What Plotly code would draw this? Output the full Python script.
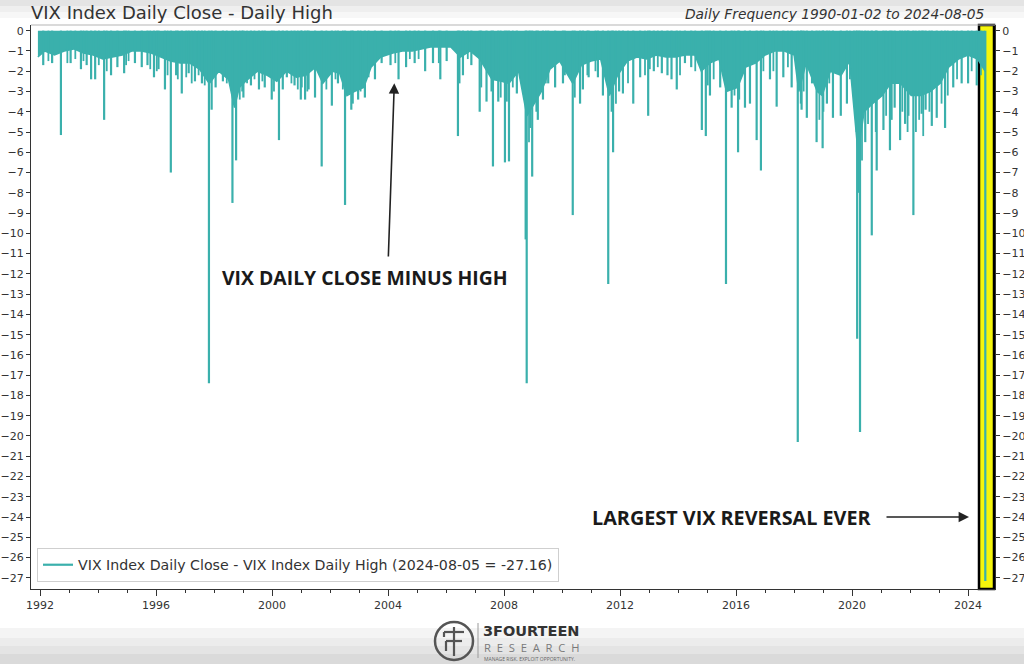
import plotly.graph_objects as go

# ---------------- data ----------------
# lower edge of the dense daily band (VIX close - VIX high)
band_dates = [
    "1991-12-05", "1992-03-01", "1992-07-01", "1992-11-01", "1993-03-01", "1993-07-01",
    "1993-11-01", "1994-03-01", "1994-07-01", "1994-11-01", "1995-03-01", "1995-07-01",
    "1995-11-01", "1996-03-01", "1996-07-01", "1996-11-01", "1997-03-01", "1997-07-01",
    "1997-11-01", "1998-03-01", "1998-07-01", "1998-09-15", "1998-11-15", "1999-03-01",
    "1999-07-01", "1999-11-01", "2000-03-01", "2000-07-01", "2000-11-01", "2001-03-01",
    "2001-07-01", "2001-10-01", "2002-02-01", "2002-05-01", "2002-08-01", "2002-11-01",
    "2003-03-01", "2003-06-01", "2003-10-01", "2004-03-01", "2004-07-01", "2004-11-01",
    "2005-03-01", "2005-07-01", "2005-11-01", "2006-03-01", "2006-07-01", "2006-11-01",
    "2007-03-01", "2007-08-01", "2007-12-01", "2008-03-01", "2008-07-01", "2008-10-15",
    "2009-01-15", "2009-04-15", "2009-08-01", "2009-12-01", "2010-05-15", "2010-09-01",
    "2011-01-01", "2011-05-01", "2011-08-20", "2011-12-01", "2012-04-01", "2012-08-01",
    "2012-12-01", "2013-04-01", "2013-08-01", "2013-12-01", "2014-04-01", "2014-08-01",
    "2014-10-20", "2015-02-01", "2015-06-01", "2015-09-01", "2016-01-20", "2016-05-01",
    "2016-09-01", "2017-01-01", "2017-05-01", "2017-09-01", "2018-01-01", "2018-03-01",
    "2018-06-01", "2018-10-20", "2018-12-20", "2019-04-01", "2019-08-15", "2019-12-01",
    "2020-03-15", "2020-06-01", "2020-09-15", "2021-01-15", "2021-05-01", "2021-09-01",
    "2022-01-15", "2022-05-15", "2022-09-15", "2023-01-15", "2023-05-01", "2023-09-01",
    "2024-01-01", "2024-05-01", "2024-08-02",
]
band_values = [
    -1.3, -1.0, -1.2, -1.0, -0.9, -1.1,
    -1.2, -1.4, -1.3, -1.2, -1.0, -1.0,
    -1.1, -1.3, -1.5, -1.6, -1.6, -1.9,
    -2.6, -2.0, -2.4, -3.8, -2.8, -2.4,
    -2.0, -2.2, -2.5, -2.0, -2.3, -2.2,
    -1.8, -2.6, -2.0, -2.1, -3.2, -3.0,
    -2.8, -1.8, -1.3, -1.1, -1.0, -1.0,
    -0.9, -0.8, -0.8, -0.8, -1.3, -1.0,
    -1.4, -2.4, -2.5, -2.6, -2.0, -4.2,
    -3.6, -3.0, -1.9, -1.5, -2.6, -1.7,
    -1.5, -1.4, -3.2, -2.2, -1.5, -1.3,
    -1.4, -1.2, -1.3, -1.3, -1.2, -1.2,
    -2.0, -1.6, -1.4, -3.0, -2.8, -1.8,
    -1.6, -1.2, -1.0, -1.0, -1.2, -3.0,
    -1.6, -3.0, -3.2, -2.0, -2.2, -1.5,
    -6.0, -4.0, -3.6, -3.2, -2.6, -2.6,
    -3.2, -3.2, -3.0, -2.6, -1.8, -1.4,
    -1.2, -1.4, -2.0,
]

# individual days that stick out well below the band
spike_dates = [
    "1992-02-10", "1992-06-01", "1992-09-20", "1993-01-20", "1993-05-30", "1993-08-10",
    "1993-10-05", "1993-11-25", "1994-03-18", "1994-06-13", "1994-09-01", "1994-11-25",
    "1995-04-10", "1995-07-05", "1995-09-15", "1995-12-06", "1996-02-01", "1996-04-22",
    "1996-07-05", "1996-09-10", "1996-11-20", "1997-02-15", "1997-05-05", "1997-08-01",
    "1997-10-28", "1997-12-01", "1998-01-20", "1998-04-22", "1998-08-20", "1998-10-05",
    "1999-01-05", "1999-04-10", "1999-07-20", "1999-10-01", "1999-12-28", "2000-03-28",
    "2000-05-15", "2000-07-05", "2000-10-10", "2000-12-28", "2001-02-20", "2001-04-05",
    "2001-06-25", "2001-09-17", "2002-01-23", "2002-04-10", "2002-07-08", "2002-09-25",
    "2002-12-20", "2003-03-15", "2003-07-20", "2003-10-12", "2004-02-01", "2004-05-12",
    "2004-08-15", "2004-12-01", "2005-04-12", "2005-07-20", "2005-10-20", "2006-01-08",
    "2006-05-30", "2006-08-01", "2006-11-15", "2007-02-28", "2007-05-25", "2007-08-14",
    "2007-10-20", "2008-01-12", "2008-03-03", "2008-06-10", "2008-09-29", "2008-10-12",
    "2008-12-20", "2009-03-01", "2009-05-05", "2009-07-10", "2009-10-05", "2010-01-12",
    "2010-05-15", "2010-08-15", "2010-09-20", "2010-12-01", "2011-03-28", "2011-05-30",
    "2011-08-05", "2011-10-05", "2011-12-20", "2012-02-06", "2012-06-15", "2012-09-10",
    "2012-12-20", "2013-03-01", "2013-06-10", "2013-08-20", "2013-10-10", "2013-12-15",
    "2014-03-28", "2014-06-15", "2014-10-27", "2014-12-16", "2015-02-06", "2015-06-15",
    "2015-08-27", "2015-11-06", "2016-01-26", "2016-04-22", "2016-06-24", "2016-09-16",
    "2016-11-09", "2017-03-03", "2017-05-26", "2017-08-18", "2017-12-01", "2018-02-16",
    "2018-04-05", "2018-06-10", "2018-08-15", "2018-10-11", "2018-12-26", "2019-02-18",
    "2019-05-05", "2019-08-12", "2019-10-28", "2020-01-27", "2020-03-05", "2020-04-10",
    "2020-06-15", "2020-09-05", "2020-11-06", "2021-01-30", "2021-04-22", "2021-06-20",
    "2021-08-28", "2021-10-30", "2021-12-10", "2022-02-11", "2022-05-26", "2022-07-15",
    "2022-10-01", "2022-12-02", "2023-03-17", "2023-06-28", "2023-10-12", "2024-01-01",
    "2024-04-19",
]
spike_values = [
    -1.7, -1.6, -5.15, -1.6, -1.9, -1.7,
    -2.4, -2.4, -4.4, -2.2, -1.8, -2.1,
    -1.6, -1.8, -1.7, -2.3, -1.9, -2.9,
    -7.0, -2.2, -3.1, -2.1, -2.5, -2.6,
    -17.4, -3.9, -2.8, -2.5, -8.5, -6.4,
    -3.3, -2.7, -2.9, -2.8, -3.4, -5.4,
    -2.9, -2.3, -2.7, -3.4, -3.4, -2.9,
    -3.3, -6.7, -3.7, -2.6, -8.6, -3.9,
    -3.4, -3.3, -2.4, -1.6, -1.7, -2.4,
    -1.8, -1.6, -2.0, -1.6, -2.4, -1.5,
    -5.2, -2.2, -1.7, -4.0, -3.5, -6.7,
    -3.5, -6.5, -6.45, -3.1, -10.3, -17.4,
    -7.2, -4.4, -3.4, -2.6, -2.8, -2.6,
    -9.1, -3.6, -2.9, -2.3, -2.3, -3.2,
    -12.5, -6.0, -3.0, -3.1, -3.6, -2.3,
    -4.2, -2.0, -2.1, -2.2, -2.4, -2.9,
    -1.6, -1.8, -4.9, -5.2, -3.2, -2.8,
    -12.5, -3.8, -6.0, -3.8, -3.6, -5.4,
    -6.9, -2.4, -3.75, -2.3, -2.8, -20.3,
    -3.9, -4.3, -2.6, -5.5, -5.8, -3.6,
    -4.3, -4.2, -3.6, -2.6, -15.2, -19.8,
    -5.5, -10.1, -6.9, -4.9, -5.9, -3.8,
    -5.4, -4.6, -4.2, -9.1, -4.1, -3.9,
    -4.7, -4.3, -4.8, -2.8, -2.6, -2.6,
    -2.7,
]

# short days that make the ragged lower edge of the band
short_dates = [
    "1992-04-15", "1992-12-10", "1993-03-20", "1993-07-01", "1994-01-10", "1994-04-20",
    "1994-12-20", "1995-01-20", "1995-10-20", "1996-01-10", "1996-05-25", "1996-10-01",
    "1997-01-15", "1997-03-25", "1997-06-20", "1997-09-05", "1998-06-10", "1998-11-20",
    "1998-12-20", "1999-02-20", "1999-05-25", "1999-09-01", "2000-01-25", "2000-09-01",
    "2000-11-20", "2001-01-10", "2001-03-20", "2001-11-15", "2002-03-10", "2002-06-10",
    "2002-10-15", "2003-01-20", "2003-05-01", "2004-04-01", "2004-10-01", "2005-01-20",
    "2005-10-01", "2006-06-20", "2006-10-01", "2007-03-20", "2007-07-25", "2007-11-20",
    "2008-02-05", "2008-04-20", "2008-11-10", "2008-11-25", "2009-02-10", "2009-06-10",
    "2010-02-05", "2010-06-10", "2010-11-15", "2011-02-25", "2011-09-15", "2011-11-10",
    "2012-04-10", "2012-11-10", "2013-01-10", "2013-04-20", "2014-01-25", "2014-08-05",
    "2015-01-10", "2015-03-25", "2015-12-12", "2016-02-10", "2016-12-10", "2017-04-15",
    "2017-10-15", "2018-03-25", "2018-05-01", "2018-11-15", "2019-01-05", "2019-03-20",
    "2019-12-05", "2020-02-25", "2020-03-25", "2020-05-05", "2020-07-20", "2020-10-25",
    "2021-03-05", "2021-05-15", "2021-09-25", "2021-11-30", "2022-03-15", "2022-04-25",
    "2022-06-15", "2022-09-01", "2023-02-01", "2023-04-20", "2023-08-15", "2024-02-15",
    "2024-06-10",
]
short_values = [
    -1.5, -1.6, -1.4, -1.5, -1.7, -2.0,
    -1.7, -1.5, -1.9, -2.0, -2.2, -2.4,
    -2.3, -2.6, -2.2, -2.7, -2.6, -3.4,
    -3.0, -2.6, -2.4, -2.5, -3.0, -2.6,
    -2.9, -2.8, -3.0, -2.9, -2.4, -2.9,
    -3.6, -3.0, -2.3, -1.6, -1.4, -1.4,
    -1.6, -2.6, -1.4, -2.8, -3.0, -3.3,
    -3.5, -2.8, -5.5, -4.8, -4.0, -2.6,
    -2.2, -3.3, -2.2, -2.0, -4.0, -3.6,
    -2.6, -2.2, -1.9, -1.8, -2.2, -2.0,
    -2.7, -2.4, -3.2, -3.4, -2.0, -2.0,
    -1.8, -3.6, -3.0, -4.4, -4.0, -2.6,
    -2.4, -5.0, -8.0, -6.4, -4.6, -5.0,
    -4.2, -4.4, -4.0, -5.0, -5.0, -4.4,
    -5.2, -4.0, -3.6, -3.2, -2.4, -2.0,
    -2.2,
]

last_date = "2024-08-05"
last_value = -27.16

title_text = "VIX Index Daily Close - Daily High"
subtitle_text = "Daily Frequency 1990-01-02 to 2024-08-05"
legend_text = "VIX Index Daily Close - VIX Index Daily High (2024-08-05 = -27.16)"
note1_text = "VIX DAILY CLOSE MINUS HIGH"
note2_text = "LARGEST VIX REVERSAL EVER"

# ---------------- styling / layout helpers ----------------
TEAL = "#3AB0AC"
W, H = 1024, 664
L, R, T, B = 31, 995, 25, 589


def pxx(px):
    return (px - L) / (R - L)


def pyy(py):
    return (B - py) / (B - T)


YR = [-27.55, 0.28]
XR = ["1991-09-09", "2024-12-05"]


def stems(dates, values):
    xs, ys = [], []
    for d, v in zip(dates, values):
        xs += [d, d, None]
        ys += [0, v, None]
    return xs, ys


fig = go.Figure()

# dense band
fig.add_trace(go.Scatter(
    x=band_dates, y=band_values, mode="lines",
    line=dict(color=TEAL, width=1.5), fill="tozeroy", fillcolor=TEAL,
    showlegend=False, hoverinfo="skip",
))

# short ragged days
sx, sy = stems(short_dates, short_values)
fig.add_trace(go.Scatter(
    x=sx, y=sy, mode="lines", line=dict(color=TEAL, width=1.8),
    showlegend=False, hoverinfo="skip",
))

# spikes as stems from zero
sx, sy = stems(spike_dates + [last_date], spike_values + [last_value])
fig.add_trace(go.Scatter(
    x=sx, y=sy, mode="lines", line=dict(color=TEAL, width=2.2),
    name=legend_text, showlegend=True, hoverinfo="skip",
))

# invisible trace so the mirrored right axis is drawn
fig.add_trace(go.Scatter(
    x=[last_date], y=[last_value], yaxis="y2", mode="markers",
    marker=dict(opacity=0), showlegend=False, hoverinfo="skip",
))

tickfont = dict(family="DejaVu Sans", size=11, color="#333333")

shapes = []
# background vignette bands (top and bottom)
for y0, y1, c in [(0, 6, "#e4e4e4"), (6, 12, "#efefef"), (12, 18, "#f7f7f7"),
                  (628, 638, "#f4f4f4"), (638, 646, "#ececec"),
                  (646, 654, "#e4e4e4"), (654, 664, "#dadada")]:
    shapes.append(dict(type="rect", xref="paper", yref="paper",
                       x0=pxx(0), x1=pxx(W), y0=pyy(y1), y1=pyy(y0),
                       fillcolor=c, line=dict(width=0), layer="below"))
# yellow highlight box
shapes.append(dict(type="rect", xref="paper", yref="paper",
                   x0=pxx(979), x1=pxx(994), y0=0, y1=1,
                   fillcolor="#F5F50C", line=dict(color="black", width=2.5),
                   layer="below"))
# top frame line
shapes.append(dict(type="line", xref="paper", yref="paper", x0=0, x1=1, y0=1, y1=1,
                   line=dict(color="#b5b5b5", width=1)))
# logo
lc = "#555555"
shapes.append(dict(type="circle", xref="paper", yref="paper",
                   x0=pxx(435), x1=pxx(473), y0=pyy(660), y1=pyy(622),
                   line=dict(color=lc, width=2.5)))
for (x0, y0, x1, y1) in [(454, 627, 454, 656), (444, 632, 464, 632),
                         (446, 641, 462, 641), (444, 632, 444, 637),
                         (446, 641, 446, 651)]:
    shapes.append(dict(type="line", xref="paper", yref="paper",
                       x0=pxx(x0), x1=pxx(x1), y0=pyy(y0), y1=pyy(y1),
                       line=dict(color=lc, width=2.2)))
shapes.append(dict(type="line", xref="paper", yref="paper",
                   x0=pxx(478), x1=pxx(478), y0=pyy(658), y1=pyy(623),
                   line=dict(color="#9a9a9a", width=1)))

annotations = [
    dict(text=title_text, xref="paper", yref="paper", x=pxx(29), y=pyy(12),
         xanchor="left", yanchor="middle", showarrow=False,
         font=dict(family="DejaVu Sans", size=18, color="#333333")),
    dict(text="<i>" + subtitle_text + "</i>", xref="paper", yref="paper",
         x=pxx(986), y=pyy(14), xanchor="right", yanchor="middle", showarrow=False,
         font=dict(family="DejaVu Sans", size=13.8, color="#333333")),
    dict(text="<b>" + note1_text + "</b>", xref="paper", yref="paper",
         x=pxx(365), y=pyy(277), xanchor="center", yanchor="middle", showarrow=False,
         font=dict(family="Open Sans", size=19.4, color="#1a1a1a")),
    dict(text="<b>" + note2_text + "</b>", xref="paper", yref="paper",
         x=pxx(732), y=pyy(517), xanchor="center", yanchor="middle", showarrow=False,
         font=dict(family="Open Sans", size=19.8, color="#1a1a1a")),
    # arrows
    dict(text="", xref="paper", yref="paper", x=pxx(394.3), y=pyy(83.3),
         ax=-6, ay=174.7, axref="pixel", ayref="pixel", showarrow=True,
         arrowhead=2, arrowsize=1.3, arrowwidth=1.6, arrowcolor="#222222"),
    dict(text="", xref="paper", yref="paper", x=pxx(969), y=pyy(517),
         ax=-84, ay=0, axref="pixel", ayref="pixel", showarrow=True,
         arrowhead=2, arrowsize=1.3, arrowwidth=1.6, arrowcolor="#222222"),
    # logo text
    dict(text="<b>3FOURTEEN</b>", xref="paper", yref="paper", x=pxx(481), y=pyy(630.5),
         xanchor="left", yanchor="middle", showarrow=False,
         font=dict(family="DejaVu Sans", size=14.5, color="#333333")),
    dict(text="\u00a0\u00a0".join("RESEARCH"),
         xref="paper", yref="paper", x=pxx(482), y=pyy(647.5),
         xanchor="left", yanchor="middle", showarrow=False,
         font=dict(family="Open Sans", size=11.2, color="#7a7a7a")),
    dict(text="MANAGE RISK. EXPLOIT OPPORTUNITY.", xref="paper", yref="paper",
         x=pxx(482), y=pyy(658.5), xanchor="left", yanchor="middle", showarrow=False,
         font=dict(family="Open Sans", size=5, color="#666666")),
]

fig.update_layout(
    width=W, height=H,
    margin=dict(l=L, r=W - R, t=T, b=H - B, pad=0, autoexpand=False),
    paper_bgcolor="white", plot_bgcolor="white",
    showlegend=True,
    legend=dict(x=pxx(37), y=pyy(582), xanchor="left", yanchor="bottom",
                bgcolor="white", bordercolor="#cfcfcf", borderwidth=1,
                font=dict(family="DejaVu Sans", size=14.2, color="#333333"),
                itemwidth=30),
    xaxis=dict(type="date", range=XR, showgrid=False, zeroline=False,
               showline=True, linecolor="#333333", linewidth=1, automargin=False,
               ticks="outside", ticklen=6, tickcolor="#333333",
               tick0="1992-01-01", dtick="M48", tickformat="%Y",
               minor=dict(dtick="M12", ticks="outside", ticklen=3, tickcolor="#333333"),
               tickfont=tickfont),
    yaxis=dict(range=YR, showgrid=False, zeroline=False, automargin=False,
               showline=True, linecolor="#333333", linewidth=1,
               ticks="outside", ticklen=4, tickcolor="#333333",
               tick0=0, dtick=1, tickfont=tickfont),
    yaxis2=dict(range=YR, overlaying="y", side="right", showgrid=False,
                zeroline=False, showline=True, linecolor="#333333", linewidth=1,
                automargin=False,
                ticks="outside", ticklen=4, tickcolor="#333333",
                tick0=0, dtick=1, tickfont=tickfont),
    shapes=shapes,
    annotations=annotations,
    hovermode=False,
)

fig.write_html("out.html", config={"displayModeBar": False},
               post_script="document.body.style.margin='0';")
